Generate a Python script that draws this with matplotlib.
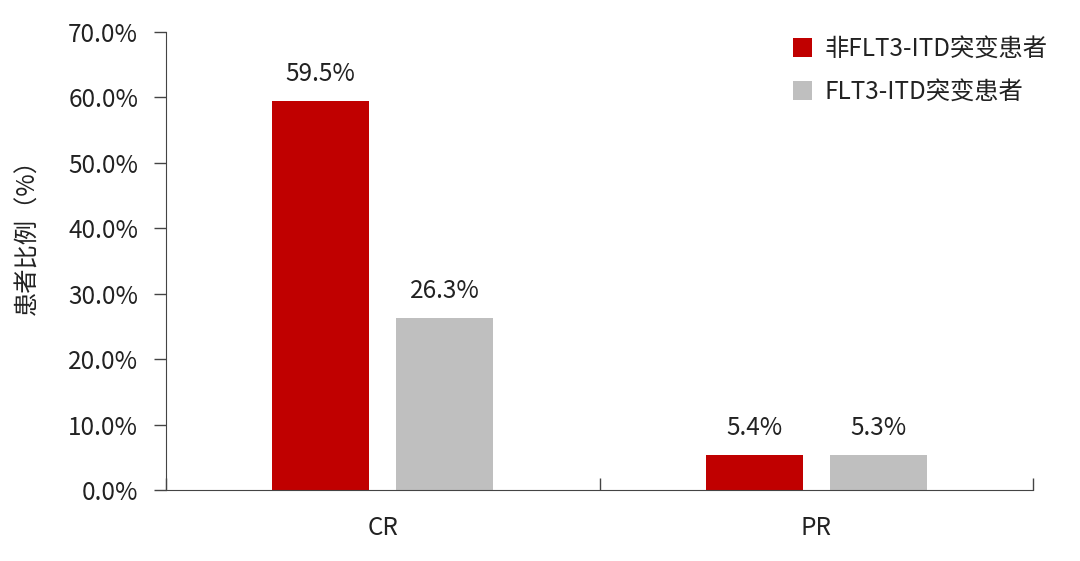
import matplotlib
matplotlib.use('Agg')
import matplotlib.pyplot as plt
import numpy as np
from matplotlib.ticker import FixedLocator, PercentFormatter

plt.rcParams['font.family'] = ['Noto Sans CJK SC', 'DejaVu Sans']

categories = ['CR', 'PR']
series_names = ['非FLT3-ITD突变患者', 'FLT3-ITD突变患者']
non_itd = [59.5, 5.4]
itd = [26.3, 5.3]
colors = ['#C00000', '#BFBFBF']

FS = 17.5
TXT = '#222222'

fig = plt.figure(figsize=(10.8, 5.61), dpi=100)
ax = fig.add_axes([0.1537, 0.1266, 0.8028, 0.8164])

x = np.arange(len(categories))
w = 0.223
off = 0.143
b1 = ax.bar(x - off, non_itd, w, color=colors[0], label=series_names[0])
b2 = ax.bar(x + off, itd, w, color=colors[1], label=series_names[1])
for bars in (b1, b2):
    ax.bar_label(bars, labels=[f'{v:.1f}%' for v in bars.datavalues],
                 padding=10, fontsize=FS, color=TXT)

ax.set_xlim(-0.5, 1.5)
ax.set_ylim(0, 70)
ax.set_yticks(np.arange(0, 71, 10))
ax.yaxis.set_major_formatter(PercentFormatter(decimals=1))
ax.set_xticks(x)
ax.set_xticklabels(categories)
ax.xaxis.set_minor_locator(FixedLocator([-0.5, 0.5, 1.5]))
ax.tick_params(axis='x', which='major', length=0, pad=18, labelsize=FS, colors=TXT)
ax.tick_params(axis='x', which='minor', direction='in', length=9, width=1, color='#444444')
ax.tick_params(axis='y', direction='out', length=9, width=1, color='#444444',
               labelsize=FS, labelcolor=TXT, pad=11)

for s in ['top', 'right']:
    ax.spines[s].set_visible(False)
ax.spines['left'].set_color('#444444')
ax.spines['bottom'].set_color('#444444')
ax.spines['left'].set_bounds(0, 70)

ax.set_ylabel('患者比例（%）', fontsize=FS, color=TXT)
ax.yaxis.set_label_coords(-0.145, 0.565)

ax.legend(loc='upper right', bbox_to_anchor=(0.99, 0.975), bbox_transform=fig.transFigure,
          frameon=False, fontsize=FS, handlelength=0.8, handleheight=0.8,
          handletextpad=0.5, labelspacing=0.7, labelcolor=TXT)

fig.savefig('out.png', dpi=100)
